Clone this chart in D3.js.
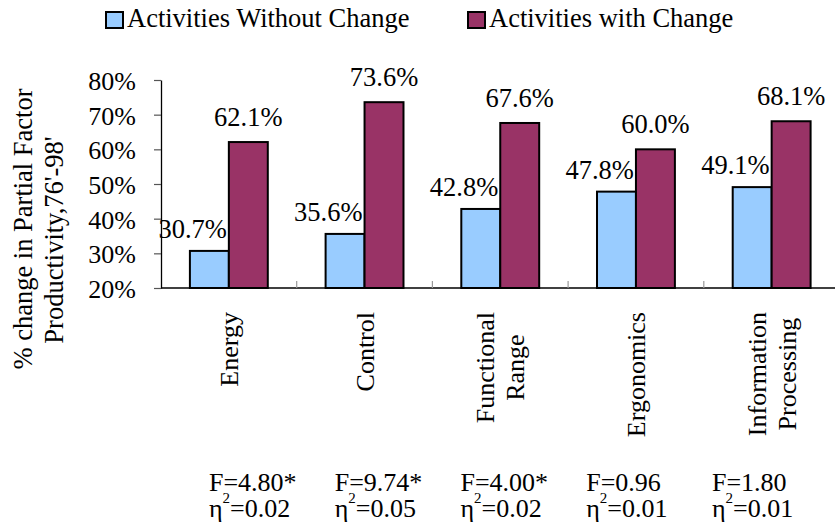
<!DOCTYPE html>
<html>
<head>
<meta charset="utf-8">
<script src="https://cdn.jsdelivr.net/npm/d3@7/dist/d3.min.js"></script>
<style>
  html, body { margin: 0; padding: 0; background: #fff; }
  svg { display: block; }
  svg text { font-family: "Liberation Serif", "Times New Roman", Tinos, "DejaVu Serif", serif !important; fill: #000; }
</style>
</head>
<body>
<svg id="chart" width="835" height="524"></svg>
<script>
// ---- data ----
const categories = ["Energy", "Control", "Functional Range", "Ergonomics", "Information Processing"];
const categoryLines = [["Energy"], ["Control"], ["Functional", "Range"], ["Ergonomics"], ["Information", "Processing"]];
const seriesNames = ["Activities Without Change", "Activities with Change"];
const withoutChange = [30.7, 35.6, 42.8, 47.8, 49.1];
const withChange = [62.1, 73.6, 67.6, 60.0, 68.1];
const yTicks = [20, 30, 40, 50, 60, 70, 80];
const fStats = ["F=4.80*", "F=9.74*", "F=4.00*", "F=0.96", "F=1.80"];
const etaStats = ["=0.02", "=0.05", "=0.02", "=0.01", "=0.01"];
const yTitleLines = ["% change in Partial Factor", "Productivity,76'-98'"];

const colors = ["#99CCFF", "#993366"];
const series = [withoutChange, withChange];
const FS = 26;
const FS_L = 26.5;
const FONT = "'Liberation Serif', 'Times New Roman', Tinos, 'DejaVu Serif', serif";

const svg = d3.select("#chart").attr("font-family", FONT);
svg.append("rect").attr("width", 835).attr("height", 524).attr("fill", "#fff");

// ---- scales ----
const plotLeft = 161, plotRight = 839.5, plotTop = 80, plotBottom = 288;
const x0 = d3.scaleBand().domain(categories).range([plotLeft, plotRight])
  .paddingInner(0.426).paddingOuter(0.213);
const x1 = d3.scaleBand().domain([0, 1]).range([0, x0.bandwidth()]);
const y = d3.scaleLinear().domain([20, 80]).range([plotBottom, plotTop]);
const statX = d3.scalePoint().domain(categories).range([209, 712]);

// ---- y axis ----
const yAxis = d3.axisLeft(y).tickValues(yTicks).tickFormat(d => d + "%")
  .tickSizeInner(7).tickSizeOuter(0).tickPadding(18);
const gy = svg.append("g").attr("transform", `translate(${plotLeft},0)`).call(yAxis)
  .attr("font-family", FONT).attr("font-size", FS);
gy.select(".domain").attr("stroke", "#000").attr("stroke-width", 1.3);
gy.selectAll(".tick line").attr("stroke", "#555").attr("stroke-width", 1.2);
gy.selectAll(".tick text").attr("fill", "#000").attr("dy", "0.36em");

// ---- x axis line + category separators ----
svg.append("line").attr("x1", plotLeft).attr("x2", 835).attr("y1", plotBottom).attr("y2", plotBottom)
  .attr("stroke", "#000").attr("stroke-width", 1.3);
const gap = (x0.step() - x0.bandwidth()) / 2;
svg.append("g").selectAll("line").data(categories.slice(1)).join("line")
  .attr("x1", d => x0(d) - gap).attr("x2", d => x0(d) - gap)
  .attr("y1", plotBottom).attr("y2", plotBottom - 7)
  .attr("stroke", "#999").attr("stroke-width", 1.2);

// ---- bars ----
series.forEach((vals, si) => {
  svg.append("g").selectAll("rect").data(vals).join("rect")
    .attr("x", (d, i) => x0(categories[i]) + x1(si))
    .attr("y", d => y(d))
    .attr("width", x1.bandwidth())
    .attr("height", d => y(20) - y(d))
    .attr("fill", colors[si])
    .attr("stroke", "#000")
    .attr("stroke-width", 2);
});

// ---- data labels ----
svg.append("g").selectAll("text").data(withoutChange).join("text")
  .attr("x", (d, i) => x0(categories[i]) + x0.bandwidth() / 2 - 2)
  .attr("y", d => y(d) - 13)
  .attr("text-anchor", "end")
  .attr("font-size", FS_L)
  .text(d => d.toFixed(1) + "%");
svg.append("g").selectAll("text").data(withChange).join("text")
  .attr("x", (d, i) => x0(categories[i]) + x1(1) + x1.bandwidth() / 2)
  .attr("y", d => y(d) - 16)
  .attr("text-anchor", "middle")
  .attr("font-size", FS_L)
  .text(d => d.toFixed(1) + "%");

// ---- category labels (rotated) ----
const labelEnd = 312, lineH = 30;
categories.forEach((c, i) => {
  const lines = categoryLines[i];
  const g = svg.append("g");
  const texts = g.selectAll("text").data(lines).join("text")
    .attr("font-size", FS)
    .attr("text-anchor", "middle")
    .attr("x", 0)
    .attr("y", (d, j) => 9 + (j - (lines.length - 1) / 2) * lineH)
    .text(d => d);
  let maxLen = 0;
  texts.each(function () { maxLen = Math.max(maxLen, this.getComputedTextLength()); });
  const cx = x0(c) + x0.bandwidth() / 2;
  g.attr("transform", `translate(${cx},${labelEnd + maxLen / 2}) rotate(-90)`);
});

// ---- y-axis title ----
svg.append("text").attr("font-size", FS_L).attr("text-anchor", "middle")
  .attr("transform", "translate(32,229) rotate(-90)").text(yTitleLines[0]);
svg.append("text").attr("font-size", FS_L).attr("text-anchor", "middle")
  .attr("transform", "translate(63,240) rotate(-90)").text(yTitleLines[1]);

// ---- statistics ----
svg.append("g").selectAll("text").data(fStats).join("text")
  .attr("x", (d, i) => statX(categories[i]))
  .attr("y", 491)
  .attr("font-size", FS)
  .text(d => d);
const eta = svg.append("g").selectAll("text").data(etaStats).join("text")
  .attr("x", (d, i) => statX(categories[i]))
  .attr("y", 517)
  .attr("font-size", FS);
eta.append("tspan").text("η");
eta.append("tspan").attr("font-size", 15).attr("dy", -14).text("2");
eta.append("tspan").attr("dy", 14).text(d => d);

// ---- legend ----
const legendX = [106, 468];
seriesNames.forEach((name, i) => {
  svg.append("rect").attr("x", legendX[i]).attr("y", 12).attr("width", 17).attr("height", 16)
    .attr("fill", colors[i]).attr("stroke", "#000").attr("stroke-width", 2);
  svg.append("text").attr("x", legendX[i] + 21).attr("y", 27).attr("font-size", FS_L).text(name);
});
</script>
</body>
</html>
